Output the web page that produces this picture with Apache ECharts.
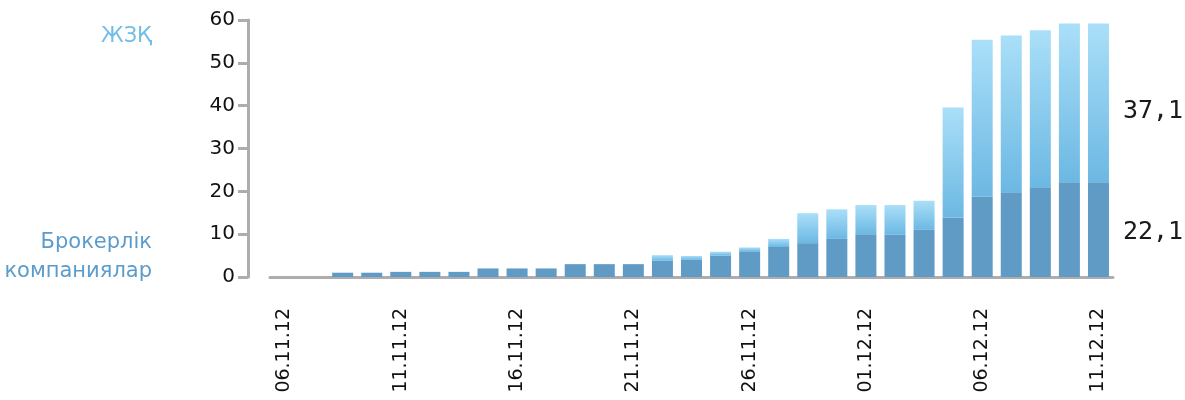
<!DOCTYPE html>
<html>
<head>
<meta charset="utf-8">
<script src="https://cdn.jsdelivr.net/npm/echarts@6/dist/echarts.min.js"></script>
<style>
  html,body{margin:0;padding:0;background:#fff;}
  #chart{width:1185px;height:400px;}
</style>
</head>
<body>
<div id="chart"></div>
<script>
// dates (label shown every 4th category)
const days = ['06.11.12','07.11.12','08.11.12','09.11.12','11.11.12','12.11.12','13.11.12','14.11.12',
  '16.11.12','17.11.12','19.11.12','20.11.12','21.11.12','22.11.12','23.11.12','24.11.12',
  '26.11.12','27.11.12','28.11.12','29.11.12','01.12.12','02.12.12','04.12.12','05.12.12',
  '06.12.12','07.12.12','08.12.12','10.12.12','11.12.12'];

// брокерлік компаниялар (dark, bottom)
const brokers = [0,0,1,1,1.2,1.2,1.2,2,2,2,3,3,3,3.8,4,5,6,7,7.9,8.9,10,9.9,11,13.9,18.8,19.8,20.8,22.1,22.1];
// ЖЗҚ (light, stacked on top)
const zhzq = [0,0,0,0,0,0,0,0,0,0,0,0,0,1.3,0.9,0.9,0.9,1.9,7,6.9,6.8,6.9,6.8,25.7,36.6,36.6,36.8,37.1,37.1];

const yTicks = {min:0, max:60, interval:10};
const last = days.length - 1;

function endLabel(arr){
  return arr.map((v,i)=> i===last ? {value:v, label:{show:true}} : v);
}

function labelStyle(offsetY){
  return {
    show:false,
    position:'right',
    distance:12,
    offset:[2, offsetY],
    fontFamily:'DejaVu Sans Mono',
    fontSize:25,
    color:'#1a1a1a',
    formatter:p=>p.value.toFixed(1).replace('.',',')
  };
}

let myChart = echarts.init(document.getElementById('chart'));
myChart.setOption({
  animation:false,
  grid:{left:270, right:72, top:20, bottom:123},
  xAxis:{
    type:'category',
    data:days,
    axisLine:{lineStyle:{color:'#adadaf', width:3}},
    axisTick:{show:false},
    axisLabel:{
      interval:3,
      rotate:90,
      margin:31,
      color:'#111',
      fontFamily:'DejaVu Sans',
      fontSize:19
    }
  },
  yAxis:{
    type:'value',
    min:yTicks.min,
    max:yTicks.max,
    interval:yTicks.interval,
    offset:22,
    splitLine:{show:false},
    axisLine:{show:true, lineStyle:{color:'#adadaf', width:3}},
    axisTick:{show:true, length:10, lineStyle:{color:'#adadaf', width:3}},
    axisLabel:{
      margin:13,
      color:'#111',
      fontFamily:'DejaVu Sans',
      fontSize:20
    }
  },
  series:[
    {
      name:'Брокерлік компаниялар',
      type:'bar',
      stack:'total',
      barWidth:21,
      data:endLabel(brokers),
      itemStyle:{color:'#5f9bc5'},
      label:labelStyle(3)
    },
    {
      name:'ЖЗҚ',
      type:'bar',
      stack:'total',
      barWidth:21,
      data:endLabel(zhzq),
      itemStyle:{
        color:new echarts.graphic.LinearGradient(0,0,0,1,[
          {offset:0,color:'#aadff8'},
          {offset:1,color:'#6cb8e3'}
        ])
      },
      label:labelStyle(9)
    }
  ],
  graphic:[
    {type:'text', right:1185-152, top:26,
      style:{text:'ЖЗҚ', fill:'#72bde8', font:'21px "DejaVu Sans"', textAlign:'right'}},
    {type:'text', right:1185-152, top:228,
      style:{text:'Брокерлік\nкомпаниялар', fill:'#5b9ccb', font:'21px "DejaVu Sans"',
        textAlign:'right', lineHeight:29}}
  ]
});
</script>
</body>
</html>
